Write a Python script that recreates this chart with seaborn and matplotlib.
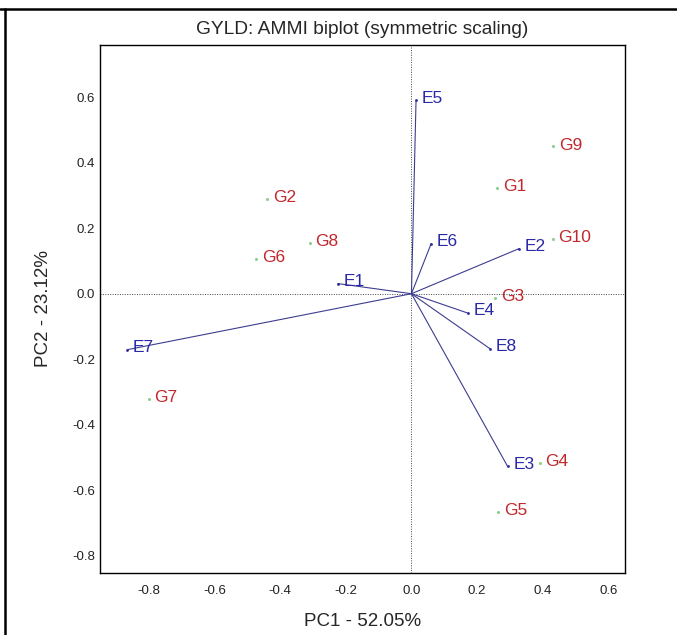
import matplotlib.pyplot as plt
import matplotlib.lines as mlines
import pandas as pd
import seaborn as sns

# Genotype scores (PC1, PC2)
genotypes = ["G1", "G2", "G3", "G4", "G5", "G6", "G7", "G8", "G9", "G10"]
geno_pc1 = [0.262, -0.439, 0.255, 0.391, 0.265, -0.472, -0.800, -0.310, 0.432, 0.430]
geno_pc2 = [0.323, 0.291, -0.013, -0.516, -0.668, 0.107, -0.321, 0.155, 0.450, 0.168]

# Environment scores (PC1, PC2)
environments = ["E1", "E2", "E3", "E4", "E5", "E6", "E7", "E8"]
env_pc1 = [-0.224, 0.328, 0.293, 0.171, 0.014, 0.060, -0.865, 0.239]
env_pc2 = [0.031, 0.138, -0.528, -0.059, 0.591, 0.153, -0.171, -0.168]

x_ticks = [-0.8, -0.6, -0.4, -0.2, 0.0, 0.2, 0.4, 0.6]
y_ticks = [-0.8, -0.6, -0.4, -0.2, 0.0, 0.2, 0.4, 0.6]

sns.set_style("white")
plt.rcParams['font.family'] = ['Liberation Sans', 'DejaVu Sans']

geno_df = pd.DataFrame({"name": genotypes, "PC1": geno_pc1, "PC2": geno_pc2})
env_df = pd.DataFrame({"name": environments, "PC1": env_pc1, "PC2": env_pc2})

fig = plt.figure(figsize=(6.77, 6.35), dpi=100)
ax = fig.add_axes([0.147, 0.098, 0.776, 0.831])

# reference lines through origin
ax.axhline(0, color="#444444", linestyle=(0, (1, 1.5)), linewidth=0.7, zorder=1)
ax.axvline(0, color="#444444", linestyle=(0, (1, 1.5)), linewidth=0.7, zorder=1)

# environment vectors
for _, row in env_df.iterrows():
    ax.plot([0, row["PC1"]], [0, row["PC2"]], color="#3d3d8f", linewidth=0.8, zorder=2)

sns.scatterplot(data=env_df, x="PC1", y="PC2", color="#2a2a9a", s=4,
                linewidth=0, ax=ax, zorder=3)
sns.scatterplot(data=geno_df, x="PC1", y="PC2", color="#8fd08f", s=5,
                linewidth=0, ax=ax, zorder=3)

for _, row in env_df.iterrows():
    ax.annotate(row["name"], (row["PC1"], row["PC2"]), xytext=(4, 1.5),
                textcoords="offset points", ha="left", va="center",
                fontsize=12.5, color="#2828a8", zorder=4)
for _, row in geno_df.iterrows():
    ax.annotate(row["name"], (row["PC1"], row["PC2"]), xytext=(4, 1),
                textcoords="offset points", ha="left", va="center",
                fontsize=12.5, color="#c0282d", zorder=4)

ax.set_xlim(-0.95, 0.65)
ax.set_ylim(-0.853, 0.76)
ax.set_xticks(x_ticks)
ax.set_yticks(y_ticks)
ax.set_xticklabels([f"{v:.1f}" for v in x_ticks])
ax.set_yticklabels([f"{v:.1f}" for v in y_ticks])
ax.tick_params(axis="both", length=0, labelsize=9.5, labelcolor="#222222")
ax.tick_params(axis="x", pad=9)
ax.tick_params(axis="y", pad=3)

for spine in ax.spines.values():
    spine.set_color("black")
    spine.set_linewidth(1.0)

ax.set_title("GYLD: AMMI biplot (symmetric scaling)", fontsize=13.8, pad=8)
ax.set_xlabel("PC1 - 52.05%", fontsize=13.5, labelpad=11)
ax.set_ylabel("PC2 - 23.12%", fontsize=13.5, labelpad=15)

# table-cell border (top and left)
fig.add_artist(mlines.Line2D([0, 1], [0.9866, 0.9866], color="black", linewidth=1.8,
                             transform=fig.transFigure))
fig.add_artist(mlines.Line2D([0.0074, 0.0074], [0, 0.9866], color="black", linewidth=1.8,
                             transform=fig.transFigure))

plt.savefig("out.png", dpi=100)
